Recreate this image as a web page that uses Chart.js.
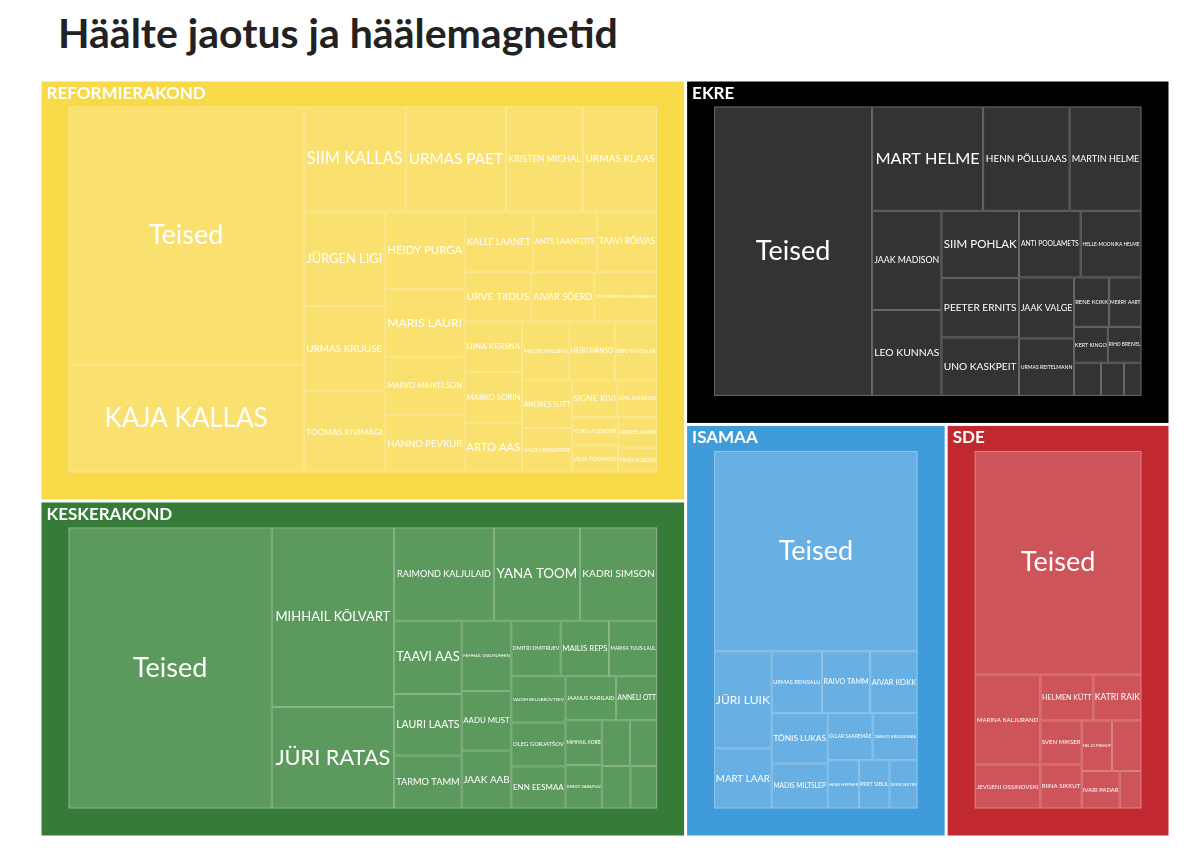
<!DOCTYPE html>
<html>
<head>
<meta charset="utf-8">
<script src="https://cdn.jsdelivr.net/npm/chart.js@4"></script>
<style>
  body { margin: 0; background: #fff; }
  #wrap { position: relative; width: 1200px; height: 852px; }
  h1 { position: absolute; left: 58px; top: 8px; margin: 0; font: bold 41px Lato, sans-serif; color: #222; }
  canvas { position: absolute; left: 0; top: 0; }
</style>
</head>
<body>
<div id="wrap">
  <h1>Häälte jaotus ja häälemagnetid</h1>
  <canvas id="tree" width="1200" height="852"></canvas>
</div>
<script>
var parties = ['REFORMIERAKOND', 'KESKERAKOND', 'EKRE', 'ISAMAA', 'SDE'];
var partyVotes = [162363, 129618, 99672, 64219, 55175];
var partyColors = ['#f8d947', '#367b37', '#000000', '#3f9bd9', '#c1282f'];
var cellColors = ['#fae06e', '#5c995c', '#333333', '#68b0e3', '#cd5459'];

var reformNames = ['Teised', 'KAJA KALLAS', 'SIIM KALLAS', 'URMAS PAET', 'KRISTEN MICHAL', 'URMAS KLAAS', 'JÜRGEN LIGI', 'URMAS KRUUSE',
  'TOOMAS KIVIMÄGI', 'HEIDY PURGA', 'MARIS LAURI', 'MARKO MIHKELSON', 'HANNO PEVKUR', 'KALLE LAANET', 'ANTS LAANEOTS', 'TAAVI RÕIVAS',
  'URVE TIIDUS', 'AIVAR SÕERD', 'KEIT PENTUS-ROSIMANNUS', 'LIINA KERSNA', 'MARKO SORIN', 'ARTO AAS', 'MADIS MILLING', 'HEIKI HANSO',
  'ERKI SAVISAAR', 'ANDRES SUTT', 'VALDO RANDPERE', 'VILJA TOOMAST', 'SIGNE KIVI', 'JÜRI JAANSON', 'ANDRES SAMMI', 'YOKO ALENDER', 'TIMO SUSLOV'];
var reformVotes = [62835, 26240, 11070, 10900, 8380, 8040, 7920, 7140,
  6800, 6400, 5600, 4800, 4760, 4250, 4000, 3760,
  3430, 3240, 3220, 3020, 3000, 2960, 2890, 2770,
  2580, 2450, 2280, 1300, 1720, 1500, 1250, 1350, 1000];

var keskNames = ['Teised', 'MIHHAIL KÕLVART', 'JÜRI RATAS', 'RAIMOND KALJULAID', 'YANA TOOM', 'KADRI SIMSON', 'TAAVI AAS', 'LAURI LAATS',
  'TARMO TAMM', 'MIHHAIL STALNUHHIN', 'AADU MUST', 'JAAK AAB', 'DMITRI DMITRIJEV', 'MARIKA TUUS-LAUL', 'MAILIS REPS', 'VADIM BELOBROVTSEV',
  'OLEG GORJATŠOV', 'ENN EESMAA', 'JAANUS KARILAID', 'ANNELI OTT', 'MIHHAIL KORB', 'KERSTI SARAPUU', 'ANDREI KOROBEINIK', 'VLADIMIR SVET',
  'MARTIN REPINSKI', 'VLADIMIR ARHIPOV'];
var keskVotes = [55575, 21375, 12080, 9060, 7800, 7000, 4820, 4050,
  3480, 3400, 2870, 2800, 2670, 2600, 2610, 2440,
  2310, 2220, 2170, 1755, 1580, 1540, 1216, 1184,
  1250, 1100];

var ekreNames = ['Teised', 'MART HELME', 'HENN PÕLLUAAS', 'MARTIN HELME', 'JAAK MADISON', 'LEO KUNNAS', 'SIIM POHLAK', 'PEETER ERNITS',
  'UNO KASKPEIT', 'ANTI POOLAMETS', 'HELLE-MOONIKA HELME', 'JAAK VALGE', 'URMAS REITELMANN', 'RENE KOKK', 'MERRY AART', 'KERT KINGO',
  'RIHO BREIVEL', 'ALAR LANEMAN', 'RUUBEN KAALEP', 'PAUL PUUSTUSMAA'];
var ekreVotes = [45435, 11505, 8960, 7450, 6840, 5920, 5170, 4590,
  4510, 4090, 4030, 3340, 3150, 1720, 1590, 1200,
  1200, 890, 760, 576];

var isamaaNames = ['Teised', 'JÜRI LUIK', 'MART LAAR', 'URMAS REINSALU', 'RAIVO TAMM', 'AIVAR KOKK', 'TÕNIS LUKAS', 'MADIS MILTSLEP',
  'ÜLLAR SAAREMÄE', 'TARMO KRUUSIMÄE', 'HEIKI HEPNER', 'PRIIT SIBUL', 'SVEN SESTER'];
var isamaaVotes = [39800, 5450, 3380, 3020, 2900, 2850, 2770, 2460,
  2080, 2080, 1480, 1430, 1325];

var sdeNames = ['Teised', 'MARINA KALJURAND', 'JEVGENI OSSINOVSKI', 'HELMEN KÜTT', 'KATRI RAIK', 'SVEN MIKSER', 'RIINA SIKKUT', 'HELJO PIKHOF',
  'HELVE SÄRGAVA', 'IVARI PADAR', 'KALVI KÕVA'];
var sdeVotes = [36630, 5810, 2835, 2390, 2170, 1785, 1785, 1500,
  1460, 1400, 805];

var candNames = [reformNames, keskNames, ekreNames, isamaaNames, sdeNames];
var candVotes = [reformVotes, keskVotes, ekreVotes, isamaaVotes, sdeVotes];

var RATIO = 1;

// squarify (d3 style), returns [{i, x0, y0, x1, y1}]
function squarify(values, x0, y0, x1, y1) {
  var nodes = values.map(function (v, i) { return { i: i, value: v }; });
  nodes.sort(function (a, b) { return b.value - a.value; });
  var value = nodes.reduce(function (s, n) { return s + n.value; }, 0);
  var out = [];
  var i0 = 0, i1 = 0, n = nodes.length;
  while (i0 < n) {
    var dx = x1 - x0, dy = y1 - y0;
    var sumValue = nodes[i1++].value;
    var minValue = sumValue, maxValue = sumValue;
    var alpha = Math.max(dy / dx, dx / dy) / (value * RATIO);
    var beta = sumValue * sumValue * alpha;
    var minRatio = Math.max(maxValue / beta, beta / minValue);
    for (; i1 < n; ++i1) {
      var nv = nodes[i1].value;
      sumValue += nv;
      if (nv < minValue) minValue = nv;
      if (nv > maxValue) maxValue = nv;
      beta = sumValue * sumValue * alpha;
      var newRatio = Math.max(maxValue / beta, beta / minValue);
      if (newRatio > minRatio) { sumValue -= nv; break; }
      minRatio = newRatio;
    }
    var row = nodes.slice(i0, i1);
    if (dx < dy) {
      var yy = y0 + dy * sumValue / value, xx = x0;
      row.forEach(function (nd) {
        var w = (x1 - x0) * nd.value / sumValue;
        out.push({ i: nd.i, x0: xx, y0: y0, x1: xx + w, y1: yy });
        xx += w;
      });
      y0 = yy;
    } else {
      var xe = x0 + dx * sumValue / value, ys = y0;
      row.forEach(function (nd) {
        var h = (y1 - y0) * nd.value / sumValue;
        out.push({ i: nd.i, x0: x0, y0: ys, x1: xe, y1: ys + h });
        ys += h;
      });
      x0 = xe;
    }
    value -= sumValue;
    i0 = i1;
  }
  return out;
}

function fitFont(ctx, text, w, h, maxSize, weight) {
  var size = Math.min(maxSize, h * 0.45);
  ctx.font = weight + ' ' + size + 'px Lato, sans-serif';
  var tw = ctx.measureText(text).width;
  if (tw > w * 0.94) size = size * w * 0.94 / tw;
  return size;
}

var treemapPlugin = {
  id: 'treemap',
  afterDatasetsDraw: function (chart) {
    var ctx = chart.ctx, xs = chart.scales.x, ys = chart.scales.y;
    var px = function (v) { return xs.getPixelForValue(v); };
    var py = function (v) { return ys.getPixelForValue(v); };
    var top = squarify(partyVotes, xs.min, ys.min, xs.max, ys.max);
    ctx.save();
    top.forEach(function (r) {
      var p = r.i;
      var g = 1.5;
      var X0 = px(r.x0) + g, X1 = px(r.x1) - g, Y0 = py(r.y0) + g, Y1 = py(r.y1) - g;
      ctx.fillStyle = partyColors[p];
      ctx.fillRect(X0, Y0, X1 - X0, Y1 - Y0);
      ctx.fillStyle = '#fff';
      ctx.font = 'bold 17px Lato, sans-serif';
      ctx.textAlign = 'left';
      ctx.textBaseline = 'middle';
      ctx.fillText(parties[p], X0 + 5, Y0 + 12);
      // inner area in data units
      var ix0 = xs.getValueForPixel(X0 + 27), ix1 = xs.getValueForPixel(X1 - 27);
      var iy0 = ys.getValueForPixel(Y0 + 25), iy1 = ys.getValueForPixel(Y1 - 27);
      var cells = squarify(candVotes[p], ix0, iy0, ix1, iy1);
      cells.forEach(function (c) {
        var cx0 = px(c.x0), cx1 = px(c.x1), cy0 = py(c.y0), cy1 = py(c.y1);
        ctx.fillStyle = cellColors[p];
        ctx.fillRect(cx0, cy0, cx1 - cx0, cy1 - cy0);
        ctx.strokeStyle = 'rgba(255,255,255,0.28)';
        ctx.lineWidth = 1;
        ctx.strokeRect(cx0 + 0.5, cy0 + 0.5, cx1 - cx0 - 1, cy1 - cy0 - 1);
        var name = candNames[p][c.i];
        var size = fitFont(ctx, name, cx1 - cx0, cy1 - cy0, name === 'Teised' ? 27 : 26, 'normal');
        if (size < 4) return;
        ctx.font = 'normal ' + size + 'px Lato, sans-serif';
        ctx.fillStyle = '#fff';
        ctx.textAlign = 'center';
        ctx.textBaseline = 'middle';
        ctx.fillText(name, (cx0 + cx1) / 2, (cy0 + cy1) / 2);
      });
    });
    ctx.restore();
  }
};

new Chart(document.getElementById('tree'), {
  type: 'scatter',
  data: { datasets: [{ data: [] }] },
  options: {
    responsive: false,
    animation: false,
    layout: { padding: { left: 40, right: 30, top: 80, bottom: 15 } },
    plugins: { legend: { display: false }, tooltip: { enabled: false } },
    scales: {
      x: { type: 'linear', min: 0, max: 1130, display: false },
      y: { type: 'linear', min: 0, max: 757, reverse: true, display: false }
    }
  },
  plugins: [treemapPlugin]
});
</script>
</body>
</html>
